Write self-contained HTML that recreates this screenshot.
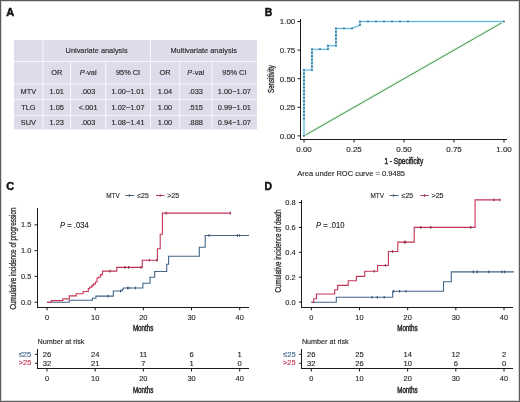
<!DOCTYPE html>
<html><head><meta charset="utf-8"><title>Figure</title>
<style>
html,body{margin:0;padding:0;background:#fff;}
body{width:520px;height:402px;overflow:hidden;}
svg{display:block;font-family:"Liberation Sans", sans-serif;will-change:transform;}
</style></head>
<body>
<svg width="520" height="402" viewBox="0 0 520 402" font-family='"Liberation Sans", sans-serif'>
<rect x="0" y="0" width="520" height="402" fill="#ffffff"/>
<rect x="1.5" y="1.5" width="517" height="399" fill="none" stroke="#d8d8d8" stroke-width="1" shape-rendering="crispEdges"/>
<rect x="0.5" y="0.5" width="519" height="401" fill="none" stroke="#5c5c5c" stroke-width="1" shape-rendering="crispEdges"/>
<text x="6.3" y="15.8" font-size="11" text-anchor="start" fill="#111" stroke="#111" stroke-width="0.45" font-weight="bold" font-style="normal" >A</text>
<text x="264.8" y="15.9" font-size="10.4" text-anchor="start" fill="#111" stroke="#111" stroke-width="0.45" font-weight="bold" font-style="normal" >B</text>
<text x="6.3" y="189.9" font-size="11" text-anchor="start" fill="#111" stroke="#111" stroke-width="0.45" font-weight="bold" font-style="normal" >C</text>
<text x="264.6" y="189.9" font-size="10.4" text-anchor="start" fill="#111" stroke="#111" stroke-width="0.45" font-weight="bold" font-style="normal" >D</text>
<rect x="14" y="40" width="243" height="89.4" fill="#dddcea"/>
<line x1="42.8" y1="40" x2="42.8" y2="61.5" stroke="#f6f6fb" stroke-width="1.0" />
<line x1="150.4" y1="40" x2="150.4" y2="61.5" stroke="#f6f6fb" stroke-width="1.0" />
<line x1="42.8" y1="61.5" x2="42.8" y2="129.4" stroke="#f6f6fb" stroke-width="1.0" />
<line x1="70.6" y1="61.5" x2="70.6" y2="129.4" stroke="#f6f6fb" stroke-width="1.0" />
<line x1="105.7" y1="61.5" x2="105.7" y2="129.4" stroke="#f6f6fb" stroke-width="1.0" />
<line x1="150.4" y1="61.5" x2="150.4" y2="129.4" stroke="#f6f6fb" stroke-width="1.0" />
<line x1="179.7" y1="61.5" x2="179.7" y2="129.4" stroke="#f6f6fb" stroke-width="1.0" />
<line x1="211.8" y1="61.5" x2="211.8" y2="129.4" stroke="#f6f6fb" stroke-width="1.0" />
<line x1="14" y1="61.5" x2="257" y2="61.5" stroke="#f6f6fb" stroke-width="1.0" />
<line x1="14" y1="83.9" x2="257" y2="83.9" stroke="#f6f6fb" stroke-width="1.0" />
<line x1="14" y1="99.5" x2="257" y2="99.5" stroke="#f6f6fb" stroke-width="1.0" />
<line x1="14" y1="115.3" x2="257" y2="115.3" stroke="#f6f6fb" stroke-width="1.0" />
<text x="96.6" y="53.45" font-size="7.4" text-anchor="middle" fill="#2b2b2b" stroke="#2b2b2b" stroke-width="0.15" font-weight="normal" font-style="normal" >Univariate analysis</text>
<text x="203.7" y="53.45" font-size="7.4" text-anchor="middle" fill="#2b2b2b" stroke="#2b2b2b" stroke-width="0.15" font-weight="normal" font-style="normal" >Multivariate analysis</text>
<text x="56.699999999999996" y="74.95" font-size="7.4" text-anchor="middle" fill="#2b2b2b" stroke="#2b2b2b" stroke-width="0.15" font-weight="normal" font-style="normal" >OR</text>
<text x="88.15" y="74.95" font-size="7.4" text-anchor="middle" fill="#2b2b2b" stroke="#2b2b2b" stroke-width="0.15" font-weight="normal" font-style="normal" ><tspan font-style="italic">P</tspan>-val</text>
<text x="128.05" y="74.95" font-size="7.4" text-anchor="middle" fill="#2b2b2b" stroke="#2b2b2b" stroke-width="0.15" font-weight="normal" font-style="normal" >95% CI</text>
<text x="165.05" y="74.95" font-size="7.4" text-anchor="middle" fill="#2b2b2b" stroke="#2b2b2b" stroke-width="0.15" font-weight="normal" font-style="normal" >OR</text>
<text x="195.75" y="74.95" font-size="7.4" text-anchor="middle" fill="#2b2b2b" stroke="#2b2b2b" stroke-width="0.15" font-weight="normal" font-style="normal" ><tspan font-style="italic">P</tspan>-val</text>
<text x="234.4" y="74.95" font-size="7.4" text-anchor="middle" fill="#2b2b2b" stroke="#2b2b2b" stroke-width="0.15" font-weight="normal" font-style="normal" >95% CI</text>
<text x="28.4" y="94.15" font-size="7.4" text-anchor="middle" fill="#2b2b2b" stroke="#2b2b2b" stroke-width="0.15" font-weight="normal" font-style="normal" >MTV</text>
<text x="56.699999999999996" y="94.15" font-size="7.4" text-anchor="middle" fill="#2b2b2b" stroke="#2b2b2b" stroke-width="0.15" font-weight="normal" font-style="normal" >1.01</text>
<text x="88.15" y="94.15" font-size="7.4" text-anchor="middle" fill="#2b2b2b" stroke="#2b2b2b" stroke-width="0.15" font-weight="normal" font-style="normal" >.003</text>
<text x="128.05" y="94.15" font-size="7.4" text-anchor="middle" fill="#2b2b2b" stroke="#2b2b2b" stroke-width="0.15" font-weight="normal" font-style="normal" >1.00&#8722;1.01</text>
<text x="165.05" y="94.15" font-size="7.4" text-anchor="middle" fill="#2b2b2b" stroke="#2b2b2b" stroke-width="0.15" font-weight="normal" font-style="normal" >1.04</text>
<text x="195.75" y="94.15" font-size="7.4" text-anchor="middle" fill="#2b2b2b" stroke="#2b2b2b" stroke-width="0.15" font-weight="normal" font-style="normal" >.033</text>
<text x="234.4" y="94.15" font-size="7.4" text-anchor="middle" fill="#2b2b2b" stroke="#2b2b2b" stroke-width="0.15" font-weight="normal" font-style="normal" >1.00&#8722;1.07</text>
<text x="28.4" y="109.85" font-size="7.4" text-anchor="middle" fill="#2b2b2b" stroke="#2b2b2b" stroke-width="0.15" font-weight="normal" font-style="normal" >TLG</text>
<text x="56.699999999999996" y="109.85" font-size="7.4" text-anchor="middle" fill="#2b2b2b" stroke="#2b2b2b" stroke-width="0.15" font-weight="normal" font-style="normal" >1.05</text>
<text x="88.15" y="109.85" font-size="7.4" text-anchor="middle" fill="#2b2b2b" stroke="#2b2b2b" stroke-width="0.15" font-weight="normal" font-style="normal" >&lt;.001</text>
<text x="128.05" y="109.85" font-size="7.4" text-anchor="middle" fill="#2b2b2b" stroke="#2b2b2b" stroke-width="0.15" font-weight="normal" font-style="normal" >1.02&#8722;1.07</text>
<text x="165.05" y="109.85" font-size="7.4" text-anchor="middle" fill="#2b2b2b" stroke="#2b2b2b" stroke-width="0.15" font-weight="normal" font-style="normal" >1.00</text>
<text x="195.75" y="109.85" font-size="7.4" text-anchor="middle" fill="#2b2b2b" stroke="#2b2b2b" stroke-width="0.15" font-weight="normal" font-style="normal" >.515</text>
<text x="234.4" y="109.85" font-size="7.4" text-anchor="middle" fill="#2b2b2b" stroke="#2b2b2b" stroke-width="0.15" font-weight="normal" font-style="normal" >0.99&#8722;1.01</text>
<text x="28.4" y="125.25" font-size="7.4" text-anchor="middle" fill="#2b2b2b" stroke="#2b2b2b" stroke-width="0.15" font-weight="normal" font-style="normal" >SUV</text>
<text x="56.699999999999996" y="125.25" font-size="7.4" text-anchor="middle" fill="#2b2b2b" stroke="#2b2b2b" stroke-width="0.15" font-weight="normal" font-style="normal" >1.23</text>
<text x="88.15" y="125.25" font-size="7.4" text-anchor="middle" fill="#2b2b2b" stroke="#2b2b2b" stroke-width="0.15" font-weight="normal" font-style="normal" >.003</text>
<text x="128.05" y="125.25" font-size="7.4" text-anchor="middle" fill="#2b2b2b" stroke="#2b2b2b" stroke-width="0.15" font-weight="normal" font-style="normal" >1.08&#8722;1.41</text>
<text x="165.05" y="125.25" font-size="7.4" text-anchor="middle" fill="#2b2b2b" stroke="#2b2b2b" stroke-width="0.15" font-weight="normal" font-style="normal" >1.00</text>
<text x="195.75" y="125.25" font-size="7.4" text-anchor="middle" fill="#2b2b2b" stroke="#2b2b2b" stroke-width="0.15" font-weight="normal" font-style="normal" >.888</text>
<text x="234.4" y="125.25" font-size="7.4" text-anchor="middle" fill="#2b2b2b" stroke="#2b2b2b" stroke-width="0.15" font-weight="normal" font-style="normal" >0.94&#8722;1.07</text>
<line x1="300.5" y1="18.9" x2="300.5" y2="140" stroke="#1a1a1a" stroke-width="1" shape-rendering="crispEdges"/>
<line x1="300" y1="139.5" x2="507" y2="139.5" stroke="#1a1a1a" stroke-width="1" shape-rendering="crispEdges"/>
<line x1="297.5" y1="135.9" x2="300.5" y2="135.9" stroke="#1a1a1a" stroke-width="1" />
<text x="295.3" y="138.75" font-size="8" text-anchor="end" fill="#2b2b2b" stroke="#2b2b2b" stroke-width="0.15" font-weight="normal" font-style="normal" >0.00</text>
<line x1="304.0" y1="139.5" x2="304.0" y2="142.5" stroke="#1a1a1a" stroke-width="1" />
<text x="304.0" y="152.0" font-size="8" text-anchor="middle" fill="#2b2b2b" stroke="#2b2b2b" stroke-width="0.15" font-weight="normal" font-style="normal" >0.00</text>
<line x1="297.5" y1="107.30000000000001" x2="300.5" y2="107.30000000000001" stroke="#1a1a1a" stroke-width="1" />
<text x="295.3" y="110.15" font-size="8" text-anchor="end" fill="#2b2b2b" stroke="#2b2b2b" stroke-width="0.15" font-weight="normal" font-style="normal" >0.25</text>
<line x1="354.0" y1="139.5" x2="354.0" y2="142.5" stroke="#1a1a1a" stroke-width="1" />
<text x="354.0" y="152.0" font-size="8" text-anchor="middle" fill="#2b2b2b" stroke="#2b2b2b" stroke-width="0.15" font-weight="normal" font-style="normal" >0.25</text>
<line x1="297.5" y1="78.7" x2="300.5" y2="78.7" stroke="#1a1a1a" stroke-width="1" />
<text x="295.3" y="81.55" font-size="8" text-anchor="end" fill="#2b2b2b" stroke="#2b2b2b" stroke-width="0.15" font-weight="normal" font-style="normal" >0.50</text>
<line x1="404.0" y1="139.5" x2="404.0" y2="142.5" stroke="#1a1a1a" stroke-width="1" />
<text x="404.0" y="152.0" font-size="8" text-anchor="middle" fill="#2b2b2b" stroke="#2b2b2b" stroke-width="0.15" font-weight="normal" font-style="normal" >0.50</text>
<line x1="297.5" y1="50.099999999999994" x2="300.5" y2="50.099999999999994" stroke="#1a1a1a" stroke-width="1" />
<text x="295.3" y="52.95" font-size="8" text-anchor="end" fill="#2b2b2b" stroke="#2b2b2b" stroke-width="0.15" font-weight="normal" font-style="normal" >0.75</text>
<line x1="454.0" y1="139.5" x2="454.0" y2="142.5" stroke="#1a1a1a" stroke-width="1" />
<text x="454.0" y="152.0" font-size="8" text-anchor="middle" fill="#2b2b2b" stroke="#2b2b2b" stroke-width="0.15" font-weight="normal" font-style="normal" >0.75</text>
<line x1="297.5" y1="21.5" x2="300.5" y2="21.5" stroke="#1a1a1a" stroke-width="1" />
<text x="295.3" y="24.35" font-size="8" text-anchor="end" fill="#2b2b2b" stroke="#2b2b2b" stroke-width="0.15" font-weight="normal" font-style="normal" >1.00</text>
<line x1="504.0" y1="139.5" x2="504.0" y2="142.5" stroke="#1a1a1a" stroke-width="1" />
<text x="504.0" y="152.0" font-size="8" text-anchor="middle" fill="#2b2b2b" stroke="#2b2b2b" stroke-width="0.15" font-weight="normal" font-style="normal" >1.00</text>
<line x1="304" y1="135.9" x2="504" y2="21.5" stroke="#e6f6ea" stroke-width="3" />
<line x1="304" y1="135.9" x2="504" y2="21.5" stroke="#429448" stroke-width="1" />
<path d="M304.00,135.90 L304.00,70.03 L312.00,70.03 L312.00,49.23 L328.00,49.23 L328.00,45.77 L336.00,45.77 L336.00,28.43 L352.00,28.43 L360.00,24.97 L360.00,21.50 L504.00,21.50" fill="none" stroke="#e4f7fb" stroke-width="3"/>
<path d="M304.00,135.90 L304.00,70.03 L312.00,70.03 L312.00,49.23 L328.00,49.23 L328.00,45.77 L336.00,45.77 L336.00,28.43 L352.00,28.43 L360.00,24.97 L360.00,21.50 L504.00,21.50" fill="none" stroke="#64b3d6" stroke-width="1.1"/>
<rect x="303.10" y="135.00" width="1.7" height="1.7" fill="#3a7090"/>
<rect x="303.10" y="117.67" width="1.7" height="1.7" fill="#3a7090"/>
<rect x="303.10" y="114.20" width="1.7" height="1.7" fill="#3a7090"/>
<rect x="303.10" y="110.73" width="1.7" height="1.7" fill="#3a7090"/>
<rect x="303.10" y="107.27" width="1.7" height="1.7" fill="#3a7090"/>
<rect x="303.10" y="103.80" width="1.7" height="1.7" fill="#3a7090"/>
<rect x="303.10" y="100.33" width="1.7" height="1.7" fill="#3a7090"/>
<rect x="303.10" y="96.87" width="1.7" height="1.7" fill="#3a7090"/>
<rect x="303.10" y="93.40" width="1.7" height="1.7" fill="#3a7090"/>
<rect x="303.10" y="89.93" width="1.7" height="1.7" fill="#3a7090"/>
<rect x="303.10" y="86.47" width="1.7" height="1.7" fill="#3a7090"/>
<rect x="303.10" y="83.00" width="1.7" height="1.7" fill="#3a7090"/>
<rect x="303.10" y="79.53" width="1.7" height="1.7" fill="#3a7090"/>
<rect x="303.10" y="76.07" width="1.7" height="1.7" fill="#3a7090"/>
<rect x="303.10" y="72.60" width="1.7" height="1.7" fill="#3a7090"/>
<rect x="303.10" y="69.13" width="1.7" height="1.7" fill="#3a7090"/>
<rect x="311.10" y="69.13" width="1.7" height="1.7" fill="#3a7090"/>
<rect x="311.10" y="65.67" width="1.7" height="1.7" fill="#3a7090"/>
<rect x="311.10" y="62.20" width="1.7" height="1.7" fill="#3a7090"/>
<rect x="311.10" y="58.73" width="1.7" height="1.7" fill="#3a7090"/>
<rect x="311.10" y="55.27" width="1.7" height="1.7" fill="#3a7090"/>
<rect x="311.10" y="51.80" width="1.7" height="1.7" fill="#3a7090"/>
<rect x="311.10" y="48.33" width="1.7" height="1.7" fill="#3a7090"/>
<rect x="319.10" y="48.33" width="1.7" height="1.7" fill="#3a7090"/>
<rect x="327.10" y="48.33" width="1.7" height="1.7" fill="#3a7090"/>
<rect x="327.10" y="44.87" width="1.7" height="1.7" fill="#3a7090"/>
<rect x="335.10" y="44.87" width="1.7" height="1.7" fill="#3a7090"/>
<rect x="335.10" y="41.40" width="1.7" height="1.7" fill="#3a7090"/>
<rect x="335.10" y="37.93" width="1.7" height="1.7" fill="#3a7090"/>
<rect x="335.10" y="34.47" width="1.7" height="1.7" fill="#3a7090"/>
<rect x="335.10" y="31.00" width="1.7" height="1.7" fill="#3a7090"/>
<rect x="335.10" y="27.53" width="1.7" height="1.7" fill="#3a7090"/>
<rect x="343.10" y="27.53" width="1.7" height="1.7" fill="#3a7090"/>
<rect x="351.10" y="27.53" width="1.7" height="1.7" fill="#3a7090"/>
<rect x="359.10" y="24.07" width="1.7" height="1.7" fill="#3a7090"/>
<rect x="359.10" y="20.60" width="1.7" height="1.7" fill="#3a7090"/>
<rect x="367.10" y="20.60" width="1.7" height="1.7" fill="#3a7090"/>
<rect x="375.10" y="20.60" width="1.7" height="1.7" fill="#3a7090"/>
<rect x="383.10" y="20.60" width="1.7" height="1.7" fill="#3a7090"/>
<rect x="391.10" y="20.60" width="1.7" height="1.7" fill="#3a7090"/>
<rect x="399.10" y="20.60" width="1.7" height="1.7" fill="#3a7090"/>
<rect x="407.10" y="20.60" width="1.7" height="1.7" fill="#3a7090"/>
<rect x="503.10" y="20.60" width="1.7" height="1.7" fill="#3a7090"/>
<text transform="translate(274.0,79.1) rotate(-90)" x="0" y="0" font-size="8.3" text-anchor="middle" fill="#2b2b2b" stroke="#2b2b2b" stroke-width="0.35" textLength="27.6" lengthAdjust="spacingAndGlyphs">Sensitivity</text>
<text x="403.8" y="164.4" font-size="8.8" text-anchor="middle" fill="#2b2b2b" stroke="#2b2b2b" stroke-width="0.5" font-weight="normal" font-style="normal" textLength="38.7" lengthAdjust="spacingAndGlyphs" >1 - Specificity</text>
<text x="297.3" y="176.2" font-size="7.35" text-anchor="start" fill="#2b2b2b" stroke="#2b2b2b" stroke-width="0.15" font-weight="normal" font-style="normal" textLength="107.7" lengthAdjust="spacingAndGlyphs" >Area under ROC curve = 0.9485</text>
<line x1="37.5" y1="207.8" x2="37.5" y2="307.5" stroke="#1a1a1a" stroke-width="1" shape-rendering="crispEdges"/>
<line x1="37.0" y1="307.5" x2="249" y2="307.5" stroke="#1a1a1a" stroke-width="1" shape-rendering="crispEdges"/>
<line x1="34.5" y1="302.2" x2="37.5" y2="302.2" stroke="#1a1a1a" stroke-width="1" />
<text x="31.3" y="304.65" font-size="8" text-anchor="end" fill="#2b2b2b" stroke="#2b2b2b" stroke-width="0.15" font-weight="normal" font-style="normal" textLength="10.34" lengthAdjust="spacingAndGlyphs" >0.0</text>
<line x1="34.5" y1="276.43" x2="37.5" y2="276.43" stroke="#1a1a1a" stroke-width="1" />
<text x="31.3" y="278.88" font-size="8" text-anchor="end" fill="#2b2b2b" stroke="#2b2b2b" stroke-width="0.15" font-weight="normal" font-style="normal" textLength="10.34" lengthAdjust="spacingAndGlyphs" >0.5</text>
<line x1="34.5" y1="250.66" x2="37.5" y2="250.66" stroke="#1a1a1a" stroke-width="1" />
<text x="31.3" y="253.11" font-size="8" text-anchor="end" fill="#2b2b2b" stroke="#2b2b2b" stroke-width="0.15" font-weight="normal" font-style="normal" textLength="10.34" lengthAdjust="spacingAndGlyphs" >1.0</text>
<line x1="34.5" y1="224.89" x2="37.5" y2="224.89" stroke="#1a1a1a" stroke-width="1" />
<text x="31.3" y="227.34" font-size="8" text-anchor="end" fill="#2b2b2b" stroke="#2b2b2b" stroke-width="0.15" font-weight="normal" font-style="normal" textLength="10.34" lengthAdjust="spacingAndGlyphs" >1.5</text>
<line x1="47.0" y1="307.5" x2="47.0" y2="310.3" stroke="#1a1a1a" stroke-width="1" />
<text x="47.0" y="319.6" font-size="8" text-anchor="middle" fill="#2b2b2b" stroke="#2b2b2b" stroke-width="0.15" font-weight="normal" font-style="normal" textLength="4.14" lengthAdjust="spacingAndGlyphs" >0</text>
<line x1="95.175" y1="307.5" x2="95.175" y2="310.3" stroke="#1a1a1a" stroke-width="1" />
<text x="95.175" y="319.6" font-size="8" text-anchor="middle" fill="#2b2b2b" stroke="#2b2b2b" stroke-width="0.15" font-weight="normal" font-style="normal" textLength="8.27" lengthAdjust="spacingAndGlyphs" >10</text>
<line x1="143.35" y1="307.5" x2="143.35" y2="310.3" stroke="#1a1a1a" stroke-width="1" />
<text x="143.35" y="319.6" font-size="8" text-anchor="middle" fill="#2b2b2b" stroke="#2b2b2b" stroke-width="0.15" font-weight="normal" font-style="normal" textLength="8.27" lengthAdjust="spacingAndGlyphs" >20</text>
<line x1="191.525" y1="307.5" x2="191.525" y2="310.3" stroke="#1a1a1a" stroke-width="1" />
<text x="191.525" y="319.6" font-size="8" text-anchor="middle" fill="#2b2b2b" stroke="#2b2b2b" stroke-width="0.15" font-weight="normal" font-style="normal" textLength="8.27" lengthAdjust="spacingAndGlyphs" >30</text>
<line x1="239.7" y1="307.5" x2="239.7" y2="310.3" stroke="#1a1a1a" stroke-width="1" />
<text x="239.7" y="319.6" font-size="8" text-anchor="middle" fill="#2b2b2b" stroke="#2b2b2b" stroke-width="0.15" font-weight="normal" font-style="normal" textLength="8.27" lengthAdjust="spacingAndGlyphs" >40</text>
<text x="143.15" y="331.4" font-size="9" text-anchor="middle" fill="#2b2b2b" stroke="#2b2b2b" stroke-width="0.5" font-weight="normal" font-style="normal" textLength="20.5" lengthAdjust="spacingAndGlyphs" >Months</text>
<text transform="translate(15.6,258.5) rotate(-90)" x="0" y="0" font-size="8.8" text-anchor="middle" fill="#2b2b2b" stroke="#2b2b2b" stroke-width="0.3" textLength="102.0" lengthAdjust="spacingAndGlyphs">Cumulative incidence of progression</text>
<text x="106.2" y="198.3" font-size="7" text-anchor="start" fill="#2b2b2b" stroke="#2b2b2b" stroke-width="0.15" font-weight="normal" font-style="normal" textLength="13.5" lengthAdjust="spacingAndGlyphs" >MTV</text>
<line x1="125.3" y1="195.5" x2="134.4" y2="195.5" stroke="#4a6682" stroke-width="1" />
<line x1="129.4" y1="194.2" x2="129.4" y2="196.8" stroke="#3a526a" stroke-width="0.9" />
<text x="137.3" y="198.2" font-size="6.95" text-anchor="start" fill="#2b2b2b" stroke="#2b2b2b" stroke-width="0.15" font-weight="normal" font-style="normal" >&#8804;25</text>
<line x1="156" y1="195.5" x2="164.4" y2="195.5" stroke="#b03a5c" stroke-width="1" />
<line x1="160.2" y1="194.2" x2="160.2" y2="196.8" stroke="#8e2c48" stroke-width="0.9" />
<text x="167.2" y="198.2" font-size="7.1" text-anchor="start" fill="#2b2b2b" stroke="#2b2b2b" stroke-width="0.15" font-weight="normal" font-style="normal" >&gt;25</text>
<text x="60.1" y="227.8" font-size="8.4" text-anchor="start" fill="#2b2b2b" stroke="#2b2b2b" stroke-width="0.15" font-weight="normal" font-style="normal" textLength="28.6" lengthAdjust="spacingAndGlyphs" ><tspan font-style="italic">P</tspan> = .034</text>
<path d="M47,302.2 H69.2 V300.3 H92.4 V298.3 H95.9 V296.1 H113.3 V291 H122.2 V289.3 H123.3 V288 H142.9 V283.2 H150 V277.3 H154.7 V271.5 H166.7 V264.3 H168.6 V256.3 H199.3 V247.2 H205.2 V235.5 H249.2" fill="none" stroke="#41668a" stroke-width="1.1" stroke-linejoin="miter"/>
<line x1="107.8" y1="294.8" x2="107.8" y2="297.40000000000003" stroke="#3a526a" stroke-width="1.1" />
<line x1="120.5" y1="289.7" x2="120.5" y2="292.3" stroke="#3a526a" stroke-width="1.1" />
<line x1="127.5" y1="286.7" x2="127.5" y2="289.3" stroke="#3a526a" stroke-width="1.1" />
<line x1="129" y1="286.7" x2="129" y2="289.3" stroke="#3a526a" stroke-width="1.1" />
<line x1="135.5" y1="286.7" x2="135.5" y2="289.3" stroke="#3a526a" stroke-width="1.1" />
<line x1="209.1" y1="234.2" x2="209.1" y2="236.8" stroke="#3a526a" stroke-width="1.1" />
<line x1="237.4" y1="234.2" x2="237.4" y2="236.8" stroke="#3a526a" stroke-width="1.1" />
<line x1="239.4" y1="234.2" x2="239.4" y2="236.8" stroke="#3a526a" stroke-width="1.1" />
<path d="M47,302.2 H51.4 V300.6 H62.8 V298.9 H69.3 V295.9 H76.2 V293.7 H83.1 V291.5 H88.3 V288.5 H89.8 V287.1 H91.9 V285.4 H93.7 V283.9 H95.5 V282 H97 V278 H98.8 V277 H100.6 V274.6 H102.5 V271.1 H116.8 V267.4 H142.3 V260.3 H157.4 V248.7 H160.2 V234.2 H162.4 V213.1 H230.3" fill="none" stroke="#c53556" stroke-width="1.1" stroke-linejoin="miter"/>
<line x1="110" y1="269.8" x2="110" y2="272.40000000000003" stroke="#8e2c48" stroke-width="1.1" />
<line x1="124.9" y1="266.09999999999997" x2="124.9" y2="268.7" stroke="#8e2c48" stroke-width="1.1" />
<line x1="128.6" y1="266.09999999999997" x2="128.6" y2="268.7" stroke="#8e2c48" stroke-width="1.1" />
<line x1="141" y1="266.09999999999997" x2="141" y2="268.7" stroke="#8e2c48" stroke-width="1.1" />
<line x1="149.3" y1="259.0" x2="149.3" y2="261.6" stroke="#8e2c48" stroke-width="1.1" />
<line x1="156.8" y1="259.0" x2="156.8" y2="261.6" stroke="#8e2c48" stroke-width="1.1" />
<line x1="166.2" y1="211.79999999999998" x2="166.2" y2="214.4" stroke="#8e2c48" stroke-width="1.1" />
<line x1="230.3" y1="211.79999999999998" x2="230.3" y2="214.4" stroke="#8e2c48" stroke-width="1.1" />
<text x="37.6" y="343.7" font-size="7.2" text-anchor="start" fill="#2b2b2b" stroke="#2b2b2b" stroke-width="0.15" font-weight="normal" font-style="normal" >Number at risk</text>
<line x1="37.5" y1="348.7" x2="37.5" y2="368.9" stroke="#1a1a1a" stroke-width="1" shape-rendering="crispEdges"/>
<line x1="37.0" y1="368.5" x2="249" y2="368.5" stroke="#1a1a1a" stroke-width="1" shape-rendering="crispEdges"/>
<line x1="35.0" y1="354.3" x2="37.5" y2="354.3" stroke="#1a1a1a" stroke-width="1" />
<text x="31.3" y="357.3" font-size="7.8" text-anchor="end" fill="#41668a" stroke="#41668a" stroke-width="0.15" font-weight="normal" font-style="normal" textLength="12.6" lengthAdjust="spacingAndGlyphs" >&#8804;25</text>
<line x1="35.0" y1="363.3" x2="37.5" y2="363.3" stroke="#1a1a1a" stroke-width="1" />
<text x="31.3" y="365.1" font-size="7.8" text-anchor="end" fill="#c53556" stroke="#c53556" stroke-width="0.15" font-weight="normal" font-style="normal" textLength="12.6" lengthAdjust="spacingAndGlyphs" >&gt;25</text>
<text x="47.0" y="356.9" font-size="7.6" text-anchor="middle" fill="#2b2b2b" stroke="#2b2b2b" stroke-width="0.15" font-weight="normal" font-style="normal" >26</text>
<text x="47.0" y="366.0" font-size="7.6" text-anchor="middle" fill="#2b2b2b" stroke="#2b2b2b" stroke-width="0.15" font-weight="normal" font-style="normal" >32</text>
<line x1="47.0" y1="368.5" x2="47.0" y2="371.5" stroke="#1a1a1a" stroke-width="1" />
<text x="47.0" y="380.9" font-size="8" text-anchor="middle" fill="#2b2b2b" stroke="#2b2b2b" stroke-width="0.15" font-weight="normal" font-style="normal" textLength="4.14" lengthAdjust="spacingAndGlyphs" >0</text>
<text x="95.175" y="356.9" font-size="7.6" text-anchor="middle" fill="#2b2b2b" stroke="#2b2b2b" stroke-width="0.15" font-weight="normal" font-style="normal" >24</text>
<text x="95.175" y="366.0" font-size="7.6" text-anchor="middle" fill="#2b2b2b" stroke="#2b2b2b" stroke-width="0.15" font-weight="normal" font-style="normal" >21</text>
<line x1="95.175" y1="368.5" x2="95.175" y2="371.5" stroke="#1a1a1a" stroke-width="1" />
<text x="95.175" y="380.9" font-size="8" text-anchor="middle" fill="#2b2b2b" stroke="#2b2b2b" stroke-width="0.15" font-weight="normal" font-style="normal" textLength="8.27" lengthAdjust="spacingAndGlyphs" >10</text>
<text x="143.35" y="356.9" font-size="7.6" text-anchor="middle" fill="#2b2b2b" stroke="#2b2b2b" stroke-width="0.15" font-weight="normal" font-style="normal" >11</text>
<text x="143.35" y="366.0" font-size="7.6" text-anchor="middle" fill="#2b2b2b" stroke="#2b2b2b" stroke-width="0.15" font-weight="normal" font-style="normal" >7</text>
<line x1="143.35" y1="368.5" x2="143.35" y2="371.5" stroke="#1a1a1a" stroke-width="1" />
<text x="143.35" y="380.9" font-size="8" text-anchor="middle" fill="#2b2b2b" stroke="#2b2b2b" stroke-width="0.15" font-weight="normal" font-style="normal" textLength="8.27" lengthAdjust="spacingAndGlyphs" >20</text>
<text x="191.525" y="356.9" font-size="7.6" text-anchor="middle" fill="#2b2b2b" stroke="#2b2b2b" stroke-width="0.15" font-weight="normal" font-style="normal" >6</text>
<text x="191.525" y="366.0" font-size="7.6" text-anchor="middle" fill="#2b2b2b" stroke="#2b2b2b" stroke-width="0.15" font-weight="normal" font-style="normal" >1</text>
<line x1="191.525" y1="368.5" x2="191.525" y2="371.5" stroke="#1a1a1a" stroke-width="1" />
<text x="191.525" y="380.9" font-size="8" text-anchor="middle" fill="#2b2b2b" stroke="#2b2b2b" stroke-width="0.15" font-weight="normal" font-style="normal" textLength="8.27" lengthAdjust="spacingAndGlyphs" >30</text>
<text x="239.7" y="356.9" font-size="7.6" text-anchor="middle" fill="#2b2b2b" stroke="#2b2b2b" stroke-width="0.15" font-weight="normal" font-style="normal" >1</text>
<text x="239.7" y="366.0" font-size="7.6" text-anchor="middle" fill="#2b2b2b" stroke="#2b2b2b" stroke-width="0.15" font-weight="normal" font-style="normal" >0</text>
<line x1="239.7" y1="368.5" x2="239.7" y2="371.5" stroke="#1a1a1a" stroke-width="1" />
<text x="239.7" y="380.9" font-size="8" text-anchor="middle" fill="#2b2b2b" stroke="#2b2b2b" stroke-width="0.15" font-weight="normal" font-style="normal" textLength="8.27" lengthAdjust="spacingAndGlyphs" >40</text>
<text x="143.15" y="393.1" font-size="9" text-anchor="middle" fill="#2b2b2b" stroke="#2b2b2b" stroke-width="0.5" font-weight="normal" font-style="normal" textLength="20.5" lengthAdjust="spacingAndGlyphs" >Months</text>
<line x1="301.8" y1="200.4" x2="301.8" y2="307.5" stroke="#1a1a1a" stroke-width="1" shape-rendering="crispEdges"/>
<line x1="301.3" y1="307.5" x2="513.3" y2="307.5" stroke="#1a1a1a" stroke-width="1" shape-rendering="crispEdges"/>
<line x1="298.8" y1="302.1" x2="301.8" y2="302.1" stroke="#1a1a1a" stroke-width="1" />
<text x="295.6" y="304.55" font-size="8" text-anchor="end" fill="#2b2b2b" stroke="#2b2b2b" stroke-width="0.15" font-weight="normal" font-style="normal" textLength="10.34" lengthAdjust="spacingAndGlyphs" >0.0</text>
<line x1="298.8" y1="277.20000000000005" x2="301.8" y2="277.20000000000005" stroke="#1a1a1a" stroke-width="1" />
<text x="295.6" y="279.65" font-size="8" text-anchor="end" fill="#2b2b2b" stroke="#2b2b2b" stroke-width="0.15" font-weight="normal" font-style="normal" textLength="10.34" lengthAdjust="spacingAndGlyphs" >0.2</text>
<line x1="298.8" y1="252.3" x2="301.8" y2="252.3" stroke="#1a1a1a" stroke-width="1" />
<text x="295.6" y="254.75" font-size="8" text-anchor="end" fill="#2b2b2b" stroke="#2b2b2b" stroke-width="0.15" font-weight="normal" font-style="normal" textLength="10.34" lengthAdjust="spacingAndGlyphs" >0.4</text>
<line x1="298.8" y1="227.40000000000003" x2="301.8" y2="227.40000000000003" stroke="#1a1a1a" stroke-width="1" />
<text x="295.6" y="229.85" font-size="8" text-anchor="end" fill="#2b2b2b" stroke="#2b2b2b" stroke-width="0.15" font-weight="normal" font-style="normal" textLength="10.34" lengthAdjust="spacingAndGlyphs" >0.6</text>
<line x1="298.8" y1="202.50000000000003" x2="301.8" y2="202.50000000000003" stroke="#1a1a1a" stroke-width="1" />
<text x="295.6" y="204.95" font-size="8" text-anchor="end" fill="#2b2b2b" stroke="#2b2b2b" stroke-width="0.15" font-weight="normal" font-style="normal" textLength="10.34" lengthAdjust="spacingAndGlyphs" >0.8</text>
<line x1="311.3" y1="307.5" x2="311.3" y2="310.3" stroke="#1a1a1a" stroke-width="1" />
<text x="311.3" y="319.6" font-size="8" text-anchor="middle" fill="#2b2b2b" stroke="#2b2b2b" stroke-width="0.15" font-weight="normal" font-style="normal" textLength="4.14" lengthAdjust="spacingAndGlyphs" >0</text>
<line x1="359.475" y1="307.5" x2="359.475" y2="310.3" stroke="#1a1a1a" stroke-width="1" />
<text x="359.475" y="319.6" font-size="8" text-anchor="middle" fill="#2b2b2b" stroke="#2b2b2b" stroke-width="0.15" font-weight="normal" font-style="normal" textLength="8.27" lengthAdjust="spacingAndGlyphs" >10</text>
<line x1="407.65" y1="307.5" x2="407.65" y2="310.3" stroke="#1a1a1a" stroke-width="1" />
<text x="407.65" y="319.6" font-size="8" text-anchor="middle" fill="#2b2b2b" stroke="#2b2b2b" stroke-width="0.15" font-weight="normal" font-style="normal" textLength="8.27" lengthAdjust="spacingAndGlyphs" >20</text>
<line x1="455.82500000000005" y1="307.5" x2="455.82500000000005" y2="310.3" stroke="#1a1a1a" stroke-width="1" />
<text x="455.82500000000005" y="319.6" font-size="8" text-anchor="middle" fill="#2b2b2b" stroke="#2b2b2b" stroke-width="0.15" font-weight="normal" font-style="normal" textLength="8.27" lengthAdjust="spacingAndGlyphs" >30</text>
<line x1="504.0" y1="307.5" x2="504.0" y2="310.3" stroke="#1a1a1a" stroke-width="1" />
<text x="504.0" y="319.6" font-size="8" text-anchor="middle" fill="#2b2b2b" stroke="#2b2b2b" stroke-width="0.15" font-weight="normal" font-style="normal" textLength="8.27" lengthAdjust="spacingAndGlyphs" >40</text>
<text x="407.45" y="331.4" font-size="9" text-anchor="middle" fill="#2b2b2b" stroke="#2b2b2b" stroke-width="0.5" font-weight="normal" font-style="normal" textLength="20.5" lengthAdjust="spacingAndGlyphs" >Months</text>
<text transform="translate(280.90000000000003,251.0) rotate(-90)" x="0" y="0" font-size="8.8" text-anchor="middle" fill="#2b2b2b" stroke="#2b2b2b" stroke-width="0.3" textLength="83.0" lengthAdjust="spacingAndGlyphs">Cumulative incidence of death</text>
<text x="370.5" y="198.3" font-size="7" text-anchor="start" fill="#2b2b2b" stroke="#2b2b2b" stroke-width="0.15" font-weight="normal" font-style="normal" textLength="13.5" lengthAdjust="spacingAndGlyphs" >MTV</text>
<line x1="389.6" y1="195.5" x2="398.70000000000005" y2="195.5" stroke="#4a6682" stroke-width="1" />
<line x1="393.70000000000005" y1="194.2" x2="393.70000000000005" y2="196.8" stroke="#3a526a" stroke-width="0.9" />
<text x="401.6" y="198.2" font-size="6.95" text-anchor="start" fill="#2b2b2b" stroke="#2b2b2b" stroke-width="0.15" font-weight="normal" font-style="normal" >&#8804;25</text>
<line x1="420.3" y1="195.5" x2="428.70000000000005" y2="195.5" stroke="#b03a5c" stroke-width="1" />
<line x1="424.5" y1="194.2" x2="424.5" y2="196.8" stroke="#8e2c48" stroke-width="0.9" />
<text x="431.5" y="198.2" font-size="7.1" text-anchor="start" fill="#2b2b2b" stroke="#2b2b2b" stroke-width="0.15" font-weight="normal" font-style="normal" >&gt;25</text>
<text x="316.0" y="227.8" font-size="8.4" text-anchor="start" fill="#2b2b2b" stroke="#2b2b2b" stroke-width="0.15" font-weight="normal" font-style="normal" textLength="28.6" lengthAdjust="spacingAndGlyphs" ><tspan font-style="italic">P</tspan> = .010</text>
<path d="M311.3,302.2 H336.3 V297.3 H392.7 V291.3 H443.5 V281.8 H451.3 V271.9 H513.9" fill="none" stroke="#41668a" stroke-width="1.1" stroke-linejoin="miter"/>
<line x1="372.1" y1="296.0" x2="372.1" y2="298.6" stroke="#3a526a" stroke-width="1.1" />
<line x1="377.3" y1="296.0" x2="377.3" y2="298.6" stroke="#3a526a" stroke-width="1.1" />
<line x1="384.2" y1="296.0" x2="384.2" y2="298.6" stroke="#3a526a" stroke-width="1.1" />
<line x1="393.6" y1="290.0" x2="393.6" y2="292.6" stroke="#3a526a" stroke-width="1.1" />
<line x1="399.6" y1="290.0" x2="399.6" y2="292.6" stroke="#3a526a" stroke-width="1.1" />
<line x1="406" y1="290.0" x2="406" y2="292.6" stroke="#3a526a" stroke-width="1.1" />
<line x1="473.3" y1="270.59999999999997" x2="473.3" y2="273.2" stroke="#3a526a" stroke-width="1.1" />
<line x1="477.1" y1="270.59999999999997" x2="477.1" y2="273.2" stroke="#3a526a" stroke-width="1.1" />
<line x1="488.8" y1="270.59999999999997" x2="488.8" y2="273.2" stroke="#3a526a" stroke-width="1.1" />
<line x1="501.8" y1="270.59999999999997" x2="501.8" y2="273.2" stroke="#3a526a" stroke-width="1.1" />
<line x1="504.7" y1="270.59999999999997" x2="504.7" y2="273.2" stroke="#3a526a" stroke-width="1.1" />
<path d="M311.3,302.2 H313.7 V298.7 H316.4 V294 H334.7 V289.7 H337.7 V285.4 H348.2 V280.8 H356.4 V276.4 H364.7 V271.3 H377.6 V265.5 H388.4 V251.5 H397.8 V242.1 H414.2 V227.4 H475.1 V199.9 H500" fill="none" stroke="#c53556" stroke-width="1.1" stroke-linejoin="miter"/>
<line x1="374.2" y1="270.0" x2="374.2" y2="272.6" stroke="#8e2c48" stroke-width="1.1" />
<line x1="385.4" y1="264.2" x2="385.4" y2="266.8" stroke="#8e2c48" stroke-width="1.1" />
<line x1="392.5" y1="250.2" x2="392.5" y2="252.8" stroke="#8e2c48" stroke-width="1.1" />
<line x1="404.3" y1="240.79999999999998" x2="404.3" y2="243.4" stroke="#8e2c48" stroke-width="1.1" />
<line x1="405.6" y1="240.79999999999998" x2="405.6" y2="243.4" stroke="#8e2c48" stroke-width="1.1" />
<line x1="420.8" y1="226.1" x2="420.8" y2="228.70000000000002" stroke="#8e2c48" stroke-width="1.1" />
<line x1="430.8" y1="226.1" x2="430.8" y2="228.70000000000002" stroke="#8e2c48" stroke-width="1.1" />
<line x1="470.8" y1="226.1" x2="470.8" y2="228.70000000000002" stroke="#8e2c48" stroke-width="1.1" />
<line x1="493.8" y1="198.6" x2="493.8" y2="201.20000000000002" stroke="#8e2c48" stroke-width="1.1" />
<line x1="500" y1="198.6" x2="500" y2="201.20000000000002" stroke="#8e2c48" stroke-width="1.1" />
<text x="301.90000000000003" y="343.7" font-size="7.2" text-anchor="start" fill="#2b2b2b" stroke="#2b2b2b" stroke-width="0.15" font-weight="normal" font-style="normal" >Number at risk</text>
<line x1="301.8" y1="348.7" x2="301.8" y2="368.9" stroke="#1a1a1a" stroke-width="1" shape-rendering="crispEdges"/>
<line x1="301.3" y1="368.5" x2="513.3" y2="368.5" stroke="#1a1a1a" stroke-width="1" shape-rendering="crispEdges"/>
<line x1="299.3" y1="354.3" x2="301.8" y2="354.3" stroke="#1a1a1a" stroke-width="1" />
<text x="295.6" y="357.3" font-size="7.8" text-anchor="end" fill="#41668a" stroke="#41668a" stroke-width="0.15" font-weight="normal" font-style="normal" textLength="12.6" lengthAdjust="spacingAndGlyphs" >&#8804;25</text>
<line x1="299.3" y1="363.3" x2="301.8" y2="363.3" stroke="#1a1a1a" stroke-width="1" />
<text x="295.6" y="365.1" font-size="7.8" text-anchor="end" fill="#c53556" stroke="#c53556" stroke-width="0.15" font-weight="normal" font-style="normal" textLength="12.6" lengthAdjust="spacingAndGlyphs" >&gt;25</text>
<text x="311.3" y="356.9" font-size="7.6" text-anchor="middle" fill="#2b2b2b" stroke="#2b2b2b" stroke-width="0.15" font-weight="normal" font-style="normal" >26</text>
<text x="311.3" y="366.0" font-size="7.6" text-anchor="middle" fill="#2b2b2b" stroke="#2b2b2b" stroke-width="0.15" font-weight="normal" font-style="normal" >32</text>
<line x1="311.3" y1="368.5" x2="311.3" y2="371.5" stroke="#1a1a1a" stroke-width="1" />
<text x="311.3" y="380.9" font-size="8" text-anchor="middle" fill="#2b2b2b" stroke="#2b2b2b" stroke-width="0.15" font-weight="normal" font-style="normal" textLength="4.14" lengthAdjust="spacingAndGlyphs" >0</text>
<text x="359.475" y="356.9" font-size="7.6" text-anchor="middle" fill="#2b2b2b" stroke="#2b2b2b" stroke-width="0.15" font-weight="normal" font-style="normal" >25</text>
<text x="359.475" y="366.0" font-size="7.6" text-anchor="middle" fill="#2b2b2b" stroke="#2b2b2b" stroke-width="0.15" font-weight="normal" font-style="normal" >26</text>
<line x1="359.475" y1="368.5" x2="359.475" y2="371.5" stroke="#1a1a1a" stroke-width="1" />
<text x="359.475" y="380.9" font-size="8" text-anchor="middle" fill="#2b2b2b" stroke="#2b2b2b" stroke-width="0.15" font-weight="normal" font-style="normal" textLength="8.27" lengthAdjust="spacingAndGlyphs" >10</text>
<text x="407.65" y="356.9" font-size="7.6" text-anchor="middle" fill="#2b2b2b" stroke="#2b2b2b" stroke-width="0.15" font-weight="normal" font-style="normal" >14</text>
<text x="407.65" y="366.0" font-size="7.6" text-anchor="middle" fill="#2b2b2b" stroke="#2b2b2b" stroke-width="0.15" font-weight="normal" font-style="normal" >10</text>
<line x1="407.65" y1="368.5" x2="407.65" y2="371.5" stroke="#1a1a1a" stroke-width="1" />
<text x="407.65" y="380.9" font-size="8" text-anchor="middle" fill="#2b2b2b" stroke="#2b2b2b" stroke-width="0.15" font-weight="normal" font-style="normal" textLength="8.27" lengthAdjust="spacingAndGlyphs" >20</text>
<text x="455.82500000000005" y="356.9" font-size="7.6" text-anchor="middle" fill="#2b2b2b" stroke="#2b2b2b" stroke-width="0.15" font-weight="normal" font-style="normal" >12</text>
<text x="455.82500000000005" y="366.0" font-size="7.6" text-anchor="middle" fill="#2b2b2b" stroke="#2b2b2b" stroke-width="0.15" font-weight="normal" font-style="normal" >6</text>
<line x1="455.82500000000005" y1="368.5" x2="455.82500000000005" y2="371.5" stroke="#1a1a1a" stroke-width="1" />
<text x="455.82500000000005" y="380.9" font-size="8" text-anchor="middle" fill="#2b2b2b" stroke="#2b2b2b" stroke-width="0.15" font-weight="normal" font-style="normal" textLength="8.27" lengthAdjust="spacingAndGlyphs" >30</text>
<text x="504.0" y="356.9" font-size="7.6" text-anchor="middle" fill="#2b2b2b" stroke="#2b2b2b" stroke-width="0.15" font-weight="normal" font-style="normal" >2</text>
<text x="504.0" y="366.0" font-size="7.6" text-anchor="middle" fill="#2b2b2b" stroke="#2b2b2b" stroke-width="0.15" font-weight="normal" font-style="normal" >0</text>
<line x1="504.0" y1="368.5" x2="504.0" y2="371.5" stroke="#1a1a1a" stroke-width="1" />
<text x="504.0" y="380.9" font-size="8" text-anchor="middle" fill="#2b2b2b" stroke="#2b2b2b" stroke-width="0.15" font-weight="normal" font-style="normal" textLength="8.27" lengthAdjust="spacingAndGlyphs" >40</text>
<text x="407.45" y="393.1" font-size="9" text-anchor="middle" fill="#2b2b2b" stroke="#2b2b2b" stroke-width="0.5" font-weight="normal" font-style="normal" textLength="20.5" lengthAdjust="spacingAndGlyphs" >Months</text>
</svg>
</body></html>
